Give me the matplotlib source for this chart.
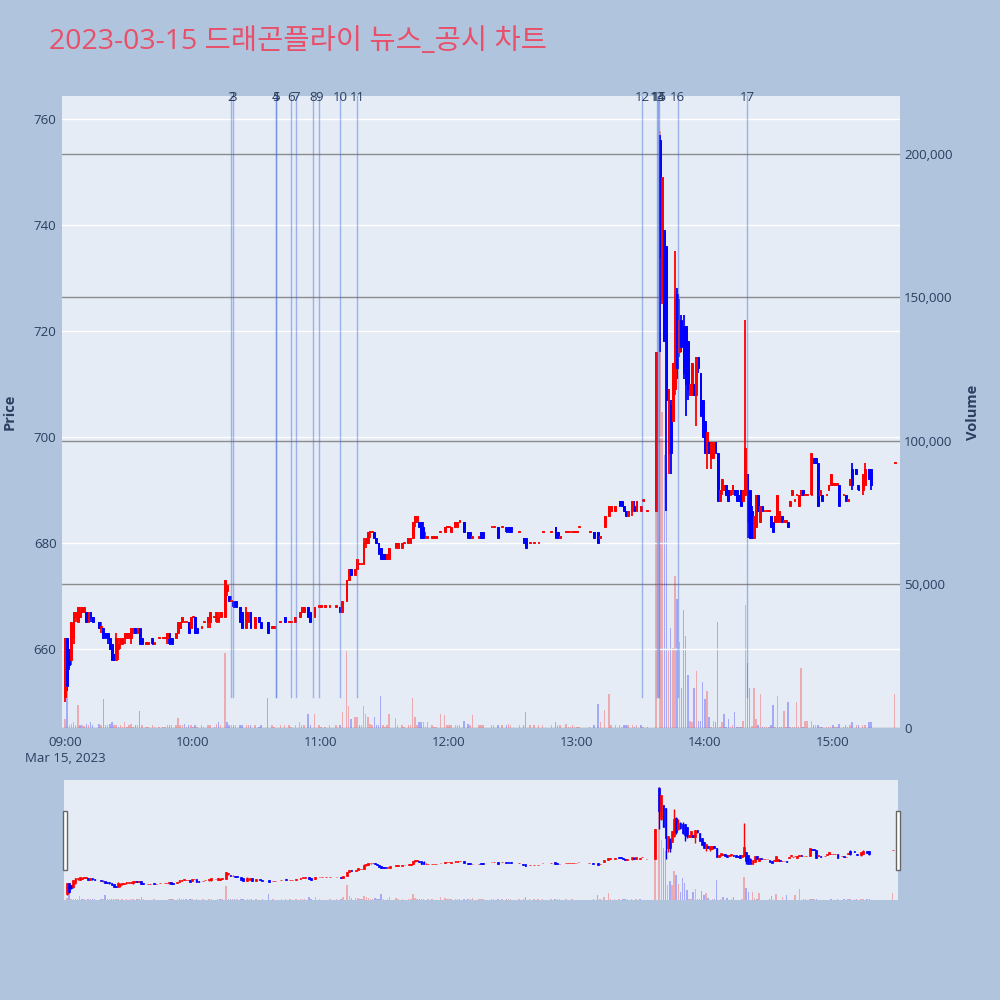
import numpy as np
import matplotlib
matplotlib.use('Agg')
import matplotlib.pyplot as plt
from matplotlib.patches import Rectangle
from matplotlib.ticker import FuncFormatter

plt.rcParams['font.family'] = ['Open Sans', 'Noto Sans CJK KR', 'DejaVu Sans']

# 1분봉 데이터 (분: 09:00 기준 경과 분, 가격: 원, 거래량: 천주)
# 오전 09:00 ~ 11:04
min_a = [0, 1, 2, 3, 4, 5, 6, 7, 8, 9, 10, 11, 12, 13,
         16, 17, 18, 19, 20, 21, 22, 23, 24, 25, 26, 27, 28, 29, 30, 31, 32, 33, 34, 35, 36,
         38, 39, 41, 42, 44, 46, 47, 48, 49, 50,
         52, 53, 54, 55, 56, 57, 58, 59, 60, 61, 62, 64, 65, 67, 68, 70, 71, 72, 73,
         75, 76, 77, 78, 79, 80, 82, 83, 85, 86, 87, 89, 91, 92, 95, 97, 98, 101, 103, 105, 106,
         108, 110, 111, 112, 114, 115, 117, 119, 120, 122, 124]
open_a = [651, 662, 660, 658, 662, 666, 665, 666, 667, 667, 667, 665, 667, 666,
          665, 664, 664, 663, 663, 662, 661, 659, 658, 660, 661, 661, 662, 662, 662, 662, 663, 664, 663, 664, 662,
          661, 661, 662, 661, 662, 662, 662, 662, 663, 662,
          662, 663, 664, 665, 665, 665, 665, 664, 666, 666, 664, 664, 665, 665, 665, 666, 665, 665, 666,
          666, 671, 670, 669, 669, 669, 668, 667, 664, 665, 667, 664, 666, 665, 665, 664, 664, 665, 666, 665, 665,
          665, 666, 667, 667, 668, 667, 666, 668, 668, 668, 668]
high_a = [662, 662, 660, 665, 667, 667, 668, 668, 668, 668, 667, 667, 667, 666,
          665, 665, 664, 663, 663, 662, 661, 659, 663, 662, 662, 662, 663, 663, 663, 664, 664, 664, 664, 664, 662,
          661, 661, 662, 661, 662, 662, 662, 663, 663, 662,
          663, 665, 665, 666, 665, 665, 665, 666, 666, 666, 664, 664, 665, 666, 667, 666, 667, 667, 667,
          673, 672, 670, 670, 669, 669, 668, 667, 668, 667, 667, 666, 666, 665, 665, 664, 664, 665, 666, 665, 665,
          666, 667, 668, 668, 668, 667, 668, 668, 668, 668, 668]
low_a = [650, 652, 656, 657, 661, 665, 665, 666, 667, 667, 665, 665, 665, 665,
         664, 663, 662, 662, 661, 660, 658, 658, 658, 658, 660, 661, 661, 662, 662, 661, 663, 663, 663, 661, 661,
         661, 661, 661, 661, 662, 662, 662, 661, 661, 661,
         662, 663, 664, 665, 665, 665, 663, 664, 666, 663, 663, 664, 665, 664, 664, 666, 665, 665, 666,
         666, 670, 669, 669, 668, 668, 665, 664, 664, 665, 664, 664, 665, 664, 663, 664, 664, 665, 665, 665, 665,
         665, 666, 667, 667, 666, 665, 666, 668, 668, 668, 668]
close_a = [662, 653, 657, 665, 667, 667, 668, 667, 668, 668, 665, 667, 666, 665,
           664, 664, 662, 662, 662, 660, 658, 658, 662, 661, 662, 662, 663, 663, 663, 664, 664, 663, 664, 661, 661,
           661, 661, 661, 661, 662, 662, 662, 663, 661, 661,
           663, 665, 665, 666, 665, 665, 663, 666, 666, 663, 663, 664, 665, 666, 667, 666, 667, 666, 667,
           673, 672, 669, 669, 668, 668, 665, 664, 667, 667, 664, 666, 665, 664, 663, 664, 664, 665, 665, 665, 665,
           666, 667, 668, 668, 666, 665, 668, 668, 668, 668, 668]
vol_a = [3, 14, 1, 1.5, 2, 1, 8, 1, 1, 0.8, 1.5, 1, 2, 1,
         1.5, 1, 10, 1, 1, 1.5, 2, 1, 1, 0.5, 1, 0.5, 2, 0.5, 1, 1.5, 0.5, 1, 1, 6, 1,
         0.5, 0.5, 1, 0.5, 0.5, 0.5, 0.5, 1, 1, 1,
         1, 3.5, 1, 1, 1.5, 0.5, 1, 1, 0.5, 1, 0.5, 1, 0.5, 1, 1, 0.5, 1.5, 2, 1,
         26, 2, 1, 1, 1, 1, 1, 1, 1, 1, 1, 1, 0.5, 1, 10.5, 1, 0.5, 1, 1, 1, 0.5,
         1, 2, 1, 1, 5, 1, 5, 1, 0.5, 0.5, 1]

# 11:07 ~ 13:33
min_b = [127, 129, 130, 132, 133, 134, 136, 137, 138, 139, 140, 141, 142, 143, 144, 145, 146, 147, 148, 149,
         150, 151, 152, 155, 156, 158, 159, 161, 162, 163, 164, 165, 166, 167, 168, 169, 170, 172, 173, 174,
         176, 178, 179, 180, 181, 183, 184, 185, 187, 189, 190, 191, 194, 195, 196, 200, 201, 203, 205, 207,
         208, 209, 213, 215, 216, 218, 220, 222, 224, 228, 230, 231, 232, 235, 236, 237, 238, 239, 240, 241,
         246, 248, 250, 251, 253, 255, 256, 258, 260, 261, 262, 263, 264, 266, 267, 268, 270, 271, 273]
open_b = [668, 668, 667, 669, 673, 675, 674, 675, 676, 676, 676, 680, 680, 682, 682, 682, 681, 680, 679, 678,
          678, 677, 677, 679, 679, 679, 680, 680, 680, 681, 684, 684, 684, 684, 683, 681, 681, 681, 681, 681,
          682, 682, 683, 683, 682, 683, 683, 684, 684, 682, 682, 681, 681, 682, 682, 683, 683, 683, 683, 683,
          683, 683, 682, 681, 681, 680, 680, 680, 682, 682, 683, 682, 681, 682, 682, 682, 682, 682, 682, 683,
          682, 682, 682, 681, 683, 685, 686, 686, 688, 688, 687, 686, 685, 686, 687, 686, 686, 688, 686]
high_b = [668, 668, 669, 673, 675, 675, 675, 677, 676, 676, 681, 681, 682, 682, 682, 682, 681, 680, 679, 678,
          678, 678, 679, 680, 680, 680, 680, 681, 681, 684, 685, 685, 684, 684, 684, 682, 681, 681, 681, 681,
          682, 683, 683, 683, 683, 684, 684, 684, 684, 682, 682, 681, 681, 682, 682, 683, 683, 683, 683, 683,
          683, 683, 682, 681, 681, 680, 680, 680, 682, 682, 683, 682, 681, 682, 682, 682, 682, 682, 682, 683,
          682, 682, 682, 681, 685, 687, 687, 687, 688, 688, 687, 686, 686, 688, 688, 688, 687, 688, 686]
low_b = [668, 667, 667, 669, 673, 674, 674, 675, 676, 676, 676, 679, 680, 681, 682, 681, 680, 678, 677, 677,
         677, 677, 677, 679, 679, 679, 680, 680, 680, 681, 683, 684, 683, 681, 681, 681, 681, 681, 681, 681,
         682, 682, 683, 683, 682, 683, 683, 684, 682, 681, 681, 681, 681, 681, 681, 683, 683, 681, 683, 682,
         682, 682, 682, 680, 679, 680, 680, 680, 682, 682, 681, 681, 681, 682, 682, 682, 682, 682, 682, 683,
         682, 681, 680, 681, 683, 685, 686, 686, 687, 687, 686, 685, 685, 685, 686, 686, 686, 688, 686]
close_b = [668, 667, 669, 673, 675, 674, 675, 677, 676, 676, 680, 681, 682, 682, 682, 681, 680, 678, 677, 677,
           677, 678, 679, 680, 680, 680, 680, 681, 681, 684, 685, 685, 683, 681, 681, 681, 681, 681, 681, 681,
           682, 683, 683, 683, 683, 684, 684, 684, 682, 681, 681, 681, 681, 681, 681, 683, 683, 681, 683, 682,
           682, 682, 682, 680, 679, 680, 680, 680, 682, 682, 681, 681, 681, 682, 682, 682, 682, 682, 682, 683,
           682, 681, 680, 681, 685, 687, 687, 687, 687, 687, 686, 685, 686, 688, 686, 688, 687, 688, 686]
vol_b = [1, 1, 5.6, 27, 7.5, 3, 4, 4, 1, 1, 7.5, 5, 4, 1.5, 1, 4, 1, 1, 11, 1,
         0.5, 1, 5, 3.5, 1, 1, 0.5, 1, 1, 10.5, 4, 1, 2, 2, 2, 0.5, 2, 1, 0.5, 0.5,
         4.8, 4.5, 1, 1, 1, 1, 1, 1, 2.5, 1.5, 1, 4.5, 1, 1, 1, 1, 1, 1, 1, 1,
         1.5, 1, 1, 1, 5.6, 1, 1, 1, 1, 1, 2, 1, 1, 1.5, 0.5, 0.5, 1, 0.5, 0.5, 0.5,
         0.5, 1, 8.5, 2, 6.3, 12, 1, 1, 1, 0.5, 1, 1, 1, 1, 0.5, 1, 1, 0.5, 0.5]

# 13:37 ~ 15:30
min_c = [277, 279, 280, 281, 282, 283, 284, 285, 286, 287, 288, 289, 290, 291, 292, 293, 294, 295, 296, 297,
         298, 299, 300, 301, 302, 303, 304, 305, 306, 307, 308, 309, 310, 311, 312, 313, 314, 315, 316, 317,
         318, 319, 320, 321, 322, 323, 324, 325, 326, 327, 328, 329, 330, 331, 332, 333, 334, 335, 336, 337,
         338, 339, 340, 341, 342, 343, 344, 345, 346, 347, 348, 350, 351, 352, 353, 354, 355, 357, 358, 359,
         360, 361, 362, 363, 365, 366, 367, 368, 369, 371, 372, 374, 375, 377, 378, 389]
open_c = [686, 756, 726, 739, 736, 697, 706, 703, 709, 727, 716, 722, 721, 721, 718, 708, 708, 710, 708, 715,
          712, 707, 703, 697, 699, 696, 696, 699, 697, 688, 690, 690, 691, 690, 689, 690, 690, 690, 689, 690,
          688, 689, 693, 690, 686, 681, 683, 689, 684, 687, 686, 686, 686, 685, 684, 684, 684, 684, 685, 684,
          684, 684, 687, 689, 688, 689, 687, 689, 690, 689, 689, 689, 696, 696, 695, 689, 689, 689, 690, 691,
          691, 691, 691, 691, 689, 689, 688, 691, 694, 694, 691, 690, 691, 694, 694, 695]
high_c = [716, 757, 749, 739, 736, 709, 707, 714, 735, 728, 726, 723, 723, 721, 718, 710, 714, 710, 715, 715,
          712, 707, 703, 701, 699, 699, 699, 699, 697, 690, 692, 691, 691, 690, 690, 691, 690, 690, 689, 690,
          690, 722, 693, 690, 687, 685, 689, 689, 687, 687, 686, 686, 686, 685, 684, 685, 689, 686, 685, 684,
          684, 684, 688, 690, 688, 689, 689, 690, 690, 689, 689, 697, 696, 696, 695, 690, 689, 689, 691, 693,
          691, 691, 691, 691, 689, 689, 688, 692, 695, 694, 691, 693, 695, 694, 694, 695]
low_c = [686, 716, 725, 718, 686, 693, 693, 703, 708, 711, 715, 716, 711, 704, 707, 708, 708, 708, 702, 712,
         704, 700, 697, 694, 697, 694, 696, 697, 688, 688, 689, 690, 689, 688, 689, 689, 689, 688, 688, 687,
         688, 689, 681, 681, 681, 681, 683, 686, 684, 686, 686, 686, 686, 683, 682, 684, 684, 684, 684, 684,
         684, 683, 687, 689, 688, 689, 687, 689, 689, 689, 689, 689, 695, 695, 687, 689, 688, 689, 690, 691,
         691, 691, 691, 687, 689, 688, 688, 691, 690, 693, 690, 689, 691, 692, 690, 695]
close_c = [716, 734, 749, 718, 707, 709, 697, 714, 726, 713, 722, 717, 712, 710, 709, 710, 714, 708, 715, 713,
           704, 700, 697, 701, 697, 699, 699, 697, 688, 690, 692, 691, 689, 688, 690, 691, 689, 688, 688, 687,
           690, 698, 684, 681, 681, 685, 689, 686, 687, 686, 686, 686, 686, 683, 682, 685, 689, 686, 684, 684,
           684, 683, 688, 690, 688, 689, 689, 690, 689, 689, 689, 697, 695, 695, 687, 690, 688, 689, 691, 693,
           691, 691, 691, 687, 689, 688, 688, 692, 691, 693, 690, 693, 694, 692, 691, 695]
vol_c = [130, 208, 110, 95, 90, 27, 35, 28, 53, 45, 30, 14, 41, 32, 18.5, 2.5, 2, 14, 20, 2.5,
         2.5, 16, 10, 13, 4, 0.5, 2.5, 2, 37, 0.5, 2, 5, 0.5, 3, 0.5, 1, 5.5, 0.5, 0.5, 0.5,
         2.5, 43, 22.5, 14, 0.8, 14, 3, 1, 12, 0.5, 0.5, 0.3, 0.3, 1, 8, 0.5, 11, 0.5, 0.5, 6,
         0.5, 9, 0.3, 0.3, 0.5, 9, 0.5, 21, 0.5, 2.5, 2.5, 2.5, 1, 1, 1, 0.5, 0.5, 0.5, 0.5, 0.5,
         1, 0.5, 0.5, 1.5, 0.5, 1, 0.5, 1, 2, 1, 1, 1, 1, 2, 2, 12]

# 뉴스/공시 번호와 시각
news_no = [2, 3, 4, 5, 6, 7, 8, 9, 10, 11, 12, 13, 14, 15, 16, 17]
news_time = ['10:17:48', '10:18:48', '10:38:54', '10:39:00', '10:46:00', '10:48:18', '10:56:18', '10:59:06',
             '11:08:54', '11:16:54', '13:30:30', '13:37:30', '13:38:00', '13:38:30', '13:47:18', '14:19:42']

x_ticks = [0, 60, 120, 180, 240, 300, 360]
x_tick_labels = ['09:00', '10:00', '11:00', '12:00', '13:00', '14:00', '15:00']
price_ticks = [660, 680, 700, 720, 740, 760]
volume_ticks = [0, 50000, 100000, 150000, 200000]

minute = np.array(min_a + min_b + min_c)
open_ = np.array(open_a + open_b + open_c, dtype=float)
high = np.array(high_a + high_b + high_c, dtype=float)
low = np.array(low_a + low_b + low_c, dtype=float)
close = np.array(close_a + close_b + close_c, dtype=float)
volume = np.array(vol_a + vol_b + vol_c) * 1000
for arr in (open_, high, low, close, volume):
    assert len(arr) == len(minute)


def hms_to_min(t):
    h, m, s = (int(v) for v in t.split(':'))
    return (h - 9) * 60 + m + s / 60


PLOT_BG = '#E5ECF6'
INK = '#2a3f5f'
P_LIM = (645.1, 764.3)
V_LIM = (0, 220200)
X_LIM = (-1.4, 391.5)


def draw_candles(axp, axv, wick_lw, edge_lw):
    up = close >= open_
    col = np.where(up, '#ff0000', '#0000ff')
    axp.vlines(minute, low, high, colors=col, linewidth=wick_lw, zorder=3)
    body_low = np.minimum(open_, close)
    body_h = np.maximum(np.abs(close - open_), 0.25)
    axp.bar(minute, body_h, bottom=body_low, width=0.85, color=col,
            edgecolor=col, linewidth=edge_lw, zorder=4)
    # 거래량 색: 전 분봉 종가 대비
    prev = np.concatenate([[open_[0]], close[:-1]])
    vcol = [(1, 0, 0, 0.28) if c >= p else (0, 0, 1, 0.28) for c, p in zip(close, prev)]
    axv.bar(minute, volume, width=0.7, color=vcol, zorder=2)


def stack_axes(rect):
    axp = fig.add_axes(rect)
    axv = axp.twinx()
    axp.set_zorder(axv.get_zorder() + 1)
    axp.patch.set_visible(False)
    axv.patch.set_visible(True)
    axv.set_facecolor(PLOT_BG)
    for a in (axp, axv):
        for s in a.spines.values():
            s.set_visible(False)
    axp.set_xlim(*X_LIM)
    axp.set_ylim(*P_LIM)
    axv.set_ylim(*V_LIM)
    return axp, axv


fig = plt.figure(figsize=(10, 10), dpi=100, facecolor='#B0C4DE')

# 메인 차트
ax, axv = stack_axes([0.062, 0.272, 0.838, 0.632])
draw_candles(ax, axv, 1.3, 0.7)

axv.set_axisbelow(True)
axv.yaxis.grid(True, color='#8c8c8c', linewidth=1)
ax.yaxis.grid(True, color='white', linewidth=1)

ax.set_yticks(price_ticks)
axv.set_yticks(volume_ticks)
axv.yaxis.set_major_formatter(FuncFormatter(lambda v, _: f'{int(v):,}'))
ax.set_xticks(x_ticks)
ax.set_xticklabels(x_tick_labels)
ax.tick_params(axis='both', length=0, labelsize=9.5, labelcolor=INK)
ax.tick_params(axis='y', pad=4)
ax.tick_params(axis='x', pad=6)
axv.tick_params(axis='y', length=0, labelsize=9.5, labelcolor=INK, pad=3)

ax.set_ylabel('Price', fontsize=10.5, fontweight='bold', color=INK)
ax.yaxis.set_label_coords(-0.054, 0.5)
axv.set_ylabel('Volume', fontsize=10.5, fontweight='bold', color=INK)
axv.yaxis.set_label_coords(1.079, 0.5)

# 뉴스/공시 세로선과 번호
for n, t in zip(news_no, news_time):
    xm = hms_to_min(t)
    ax.plot([xm, xm], [651, P_LIM[1]], color=(0.26, 0.41, 0.88, 0.45), linewidth=1.0, zorder=5)
    ax.text(xm, P_LIM[1] - 0.2, str(n), ha='center', va='center', fontsize=9.5,
            color=INK, zorder=6, clip_on=False)

fig.text(0.065, 0.242, 'Mar 15, 2023', ha='center', va='center', fontsize=9.5, color=INK)
fig.text(0.049, 0.958, '2023-03-15 드래곤플라이 뉴스_공시 차트', ha='left', va='center',
         fontsize=20.5, color='#e8506a')

# 레인지 슬라이더
axs, axsv = stack_axes([0.064, 0.100, 0.834, 0.120])
draw_candles(axs, axsv, 1.0, 0.5)
for a in (axs, axsv):
    a.set_xticks([])
    a.set_yticks([])
for hx in (0.0625, 0.8955):
    fig.patches.append(Rectangle((hx, 0.130), 0.004, 0.059, transform=fig.transFigure,
                                 facecolor='white', edgecolor='#666666', linewidth=1))

fig.savefig('out.png', dpi=100, facecolor=fig.get_facecolor())
